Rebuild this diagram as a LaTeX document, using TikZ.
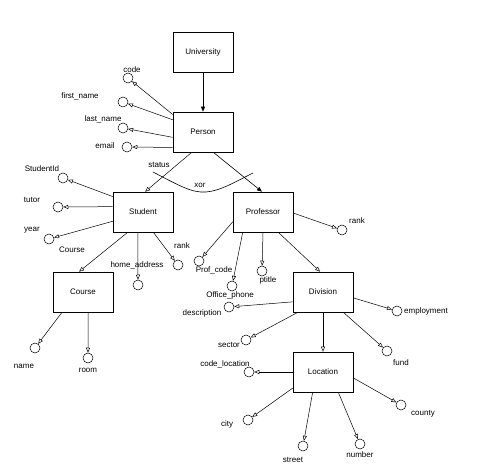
\documentclass[tikz,border=0pt]{standalone}
\usepackage{fontspec}
\setmainfont{Liberation Sans}
\usetikzlibrary{arrows.meta}
\begin{document}
\begin{tikzpicture}[x=1pt,y=-1pt,
  font=\fontsize{8}{9}\selectfont,
  ent/.style={draw,line width=0.6pt,minimum width=60pt,minimum height=40pt,inner sep=0pt},
  att/.style={draw,circle,line width=0.5pt,minimum size=10pt,inner sep=0pt},
  lbl/.style={inner sep=0pt},
  oa/.style={line width=0.5pt,-{Triangle[open,length=5pt,width=4pt]}},
  fa/.style={line width=0.6pt,-{Triangle[length=5pt,width=4pt]}},
  ln/.style={line width=0.6pt}]
\useasboundingbox (0,0) rectangle (483,476);
% entities
\node[ent] (univ) at (203,52) {University};
\node[ent] (person) at (203,132) {Person};
\node[ent] (student) at (143,212) {Student};
\node[ent] (prof) at (263,212) {Professor};
\node[ent] (course) at (83,292) {Course};
\node[ent] (div) at (323,292) {Division};
\node[ent] (loc) at (323,372) {Location};
% attribute circles
\node[att] (c-code) at (128,78) {};
\node[att] (c-first) at (123,102) {};
\node[att] (c-last) at (123,128) {};
\node[att] (c-email) at (127,147) {};
\node[att] (c-sid) at (63,178) {};
\node[att] (c-tutor) at (58,207) {};
\node[att] (c-year) at (49,239) {};
\node[att] (c-home) at (138,285) {};
\node[att] (c-srank) at (178,265) {};
\node[att] (c-prank) at (342,230) {};
\node[att] (c-pcode) at (199,261) {};
\node[att] (c-ophone) at (232,286) {};
\node[att] (c-ptitle) at (262,271) {};
\node[att] (c-desc) at (229,307) {};
\node[att] (c-employ) at (397,311) {};
\node[att] (c-sector) at (246,340) {};
\node[att] (c-fund) at (387,351) {};
\node[att] (c-codeloc) at (249,372) {};
\node[att] (c-city) at (248,420) {};
\node[att] (c-street) at (303,446) {};
\node[att] (c-number) at (360,444) {};
\node[att] (c-county) at (401,405) {};
\node[att] (c-name) at (35,348) {};
\node[att] (c-room) at (88,358) {};
% labels
\node[lbl] (l-code) at (132,70) {code};
\node[lbl] (l-first) at (80,96) {first\_name};
\node[lbl] (l-last) at (103,119) {last\_name};
\node[lbl] (l-email) at (105,146) {email};
\node[lbl] (l-status) at (159,165) {status};
\node[lbl] (l-xor) at (200,185) {xor};
\node[lbl] (l-sid) at (42,169) {StudentId};
\node[lbl] (l-tutor) at (32,200) {tutor};
\node[lbl] (l-year) at (32,230) {year};
\node[lbl] (l-course) at (72,250) {Course};
\node[lbl] (l-home) at (137,265) {home\_address};
\node[lbl] (l-srank) at (182,246) {rank};
\node[lbl] (l-prank) at (357,221) {rank};
\node[lbl] (l-pcode) at (214,270) {Prof\_code};
\node[lbl] (l-ptitle) at (268,280) {ptitle};
\node[lbl] (l-ophone) at (230,295) {Office\_phone};
\node[lbl] (l-desc) at (202,313) {description};
\node[lbl] (l-employ) at (426,311) {employment};
\node[lbl] (l-sector) at (229,345) {sector};
\node[lbl] (l-fund) at (401,363) {fund};
\node[lbl] (l-codeloc) at (225,364) {code\_location};
\node[lbl] (l-city) at (227,424) {city};
\node[lbl] (l-street) at (293,460) {street};
\node[lbl] (l-number) at (360,455) {number};
\node[lbl] (l-county) at (423,414) {county};
\node[lbl] (l-name) at (24,366) {name};
\node[lbl] (l-room) at (88,370) {room};
% hierarchy connectors
\draw[fa] (univ) -- (person);
\draw[oa] (person.241) -- (student.84);
\draw[fa] (person.297) -- (prof.93);
\draw[oa] (student.233) -- (course.101);
\draw[oa] (prof.307) -- (div.98);
\draw[oa] (div) -- (loc);
% xor arc
\coordinate (xa) at (153,172);
\coordinate (xb) at (206,192);
\coordinate (xc) at (253,173);
\draw[ln] (xa) .. controls (180,186) and (192,193) .. (xb) .. controls (220,191) and (235,182) .. (xc);
% person attributes
\draw[oa] (person.150) -- (c-code);
\draw[oa] (person.158) -- (c-first);
\draw[oa] (person.190) -- (c-last);
\draw[oa] (person.207) -- (c-email);
% student attributes
\draw[oa] (student.153) -- (c-sid);
\draw[oa] (student.170) -- (c-tutor);
\draw[oa] (student.197) -- (c-year);
\draw[oa] (student.256) -- (c-home);
\draw[oa] (student.297) -- (c-srank);
% professor attributes
\draw[oa] (prof.358) -- (c-prank);
\draw[oa] (prof.198) -- (c-pcode);
\draw[oa] (prof.225) -- (c-ophone);
\draw[oa] (prof.270) -- (c-ptitle);
% course attributes
\draw[oa] (course.224) -- (c-name);
\draw[oa] (course.284) -- (c-room);
% division attributes
\draw[oa] (div.198) -- (c-desc);
\draw[oa] (div.349) -- (c-employ);
\draw[oa] (div.219) -- (c-sector);
\draw[oa] (div.315) -- (c-fund);
% location attributes
\draw[oa] (loc.west) -- (c-codeloc);
\draw[oa] (loc.208) -- (c-city);
\draw[oa] (loc.243) -- (c-street);
\draw[oa] (loc.307) -- (c-number);
\draw[oa] (loc.349) -- (c-county);
\end{tikzpicture}
\end{document}
